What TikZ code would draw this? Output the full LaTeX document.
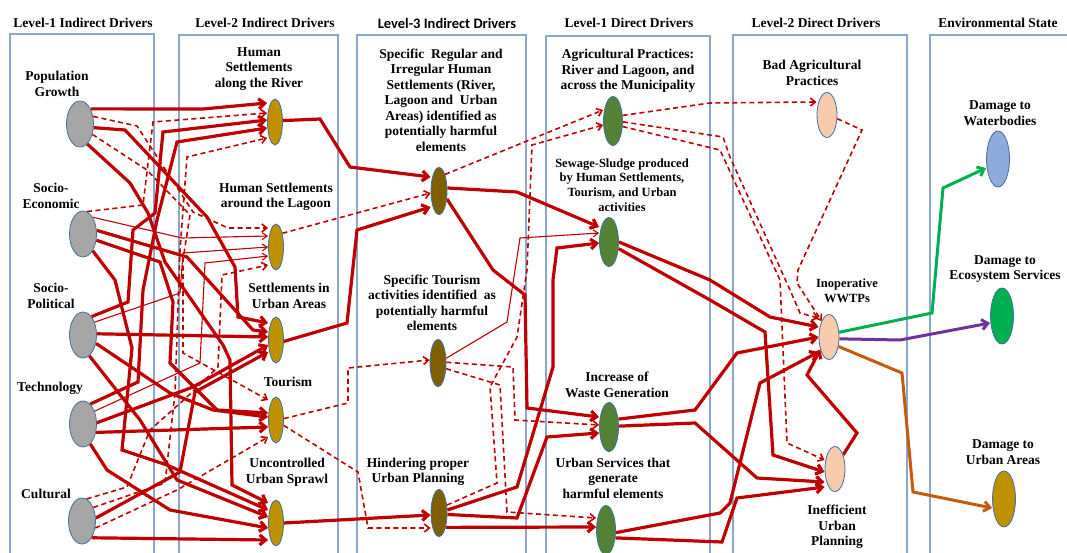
\documentclass[tikz,border=0pt]{standalone}
\usepackage{fontspec}
\setmainfont{Liberation Serif}
\newfontfamily\calfont{Carlito}
\usetikzlibrary{arrows.meta,shapes.geometric}
\definecolor{dred}{HTML}{C00000}
\definecolor{boxc}{HTML}{8CA8C8}
\definecolor{edgec}{HTML}{41719C}
\definecolor{grayf}{HTML}{A6A6A6}
\definecolor{goldf}{HTML}{BF9000}
\definecolor{brownf}{HTML}{7F6000}
\definecolor{greenf}{HTML}{548235}
\definecolor{peachf}{HTML}{F8CBAD}
\definecolor{waterc}{HTML}{8FAADC}
\definecolor{ecoc}{HTML}{00B050}
\definecolor{uac}{HTML}{BF9000}
\definecolor{grnl}{HTML}{00B050}
\definecolor{prpl}{HTML}{7030A0}
\definecolor{orgl}{HTML}{C55A11}
\pgfdeclarelayer{bg}
\pgfsetlayers{bg,main}
\begin{document}
\begin{tikzpicture}[x=1pt,y=-1pt,
  col/.style={draw=boxc, line width=1.1pt},
  ttl/.style={font=\bfseries\fontsize{13.5}{15}\selectfont, inner sep=0},
  lbl/.style={align=center, font=\bfseries\fontsize{13.5}{15.5}\selectfont, inner sep=0},
  slbl/.style={align=center, font=\bfseries\fontsize{12.5}{14.6}\selectfont, inner sep=0},
  ell/.style={ellipse, draw=edgec, line width=0.8pt, inner sep=0pt},
  l1/.style={ell, fill=grayf, minimum width=27pt, minimum height=46pt},
  l2/.style={ell, fill=goldf, minimum width=15pt, minimum height=46pt},
  l3/.style={ell, fill=brownf, minimum width=16pt, minimum height=47pt},
  d1/.style={ell, fill=greenf, minimum width=19pt, minimum height=49pt},
  d2/.style={ell, fill=peachf, minimum width=20pt, minimum height=45pt},
  env/.style={ell, minimum width=23pt, minimum height=56pt},
  thk/.style={draw=dred, line width=3.2pt, -{Straight Barb[length=6pt,width=10pt]}},
  thn/.style={draw=dred, line width=1.1pt, -{Straight Barb[length=5pt,width=7pt]}},
  dsh/.style={draw=dred, line width=1.6pt, dash pattern=on 5pt off 3.5pt, -{Straight Barb[length=5pt,width=8pt]}},
  grn/.style={draw=grnl, line width=3pt, -{Straight Barb[length=6pt,width=10pt]}},
  prp/.style={draw=prpl, line width=3pt, -{Straight Barb[length=6pt,width=10pt]}},
  org/.style={draw=orgl, line width=3pt, -{Straight Barb[length=6pt,width=10pt]}},
]
\useasboundingbox (0,0) rectangle (1067,553);

% titles
\node[ttl] (h1) at (83,23) {Level-1 Indirect Drivers};
\node[ttl] (h2) at (265,23) {Level-2 Indirect Drivers};
\node[ttl, font=\calfont\bfseries\fontsize{14.5}{15}\selectfont] (h3) at (447,23) {Level-3 Indirect Drivers};
\node[ttl] (h4) at (629,23) {Level-1 Direct Drivers};
\node[ttl] (h5) at (816,23) {Level-2 Direct Drivers};
\node[ttl] (h6) at (998,23) {Environmental State};

% nodes
\node[l1] (pg) at (80,124) {};
\node[l1] (se) at (83,234) {};
\node[l1] (sp) at (83,335) {};
\node[l1] (tech) at (83,424) {};
\node[l1] (cul) at (82,521) {};
\node[l2] (river) at (275,122) {};
\node[l2] (lagoon) at (276,247) {};
\node[l2] (urban) at (276,340) {};
\node[l2] (tourism) at (276,420) {};
\node[l2] (sprawl) at (276,523) {};
\node[l3] (sr) at (439,191) {};
\node[l3] (st) at (438,363) {};
\node[l3] (hp) at (439,513) {};
\node[d1] (agri) at (613,121) {};
\node[d1] (sewage) at (609,242) {};
\node[d1] (wg) at (609,427) {};
\node[d1] (us) at (606,530) {};
\node[d2] (bad) at (827,115) {};
\node[d2] (inop) at (829,337) {};
\node[d2] (ineff) at (835,469) {};
\node[env, fill=waterc] (water) at (998,159) {};
\node[env, fill=ecoc] (eco) at (1002,316) {};
\node[env, fill=uac] (ua) at (1004,499) {};

% labels
\node[lbl] (tpg) at (57,84) {Population\\Growth};
\node[lbl] (tse) at (51,196) {Socio-\\Economic};
\node[lbl] (tsp) at (51,296) {Socio-\\Political};
\node[lbl] (ttech) at (50,388) {Technology};
\node[lbl] (tcul) at (46,494) {Cultural};
\node[lbl] (triver) at (259,69) {Human\\Settlements\\along the River};
\node[lbl] (tlagoon) at (276,197) {Human Settlements\\around the Lagoon};
\node[lbl] (turban) at (289,296) {Settlements in\\Urban Areas};
\node[lbl] (ttour) at (288,382) {Tourism};
\node[lbl] (tsprawl) at (287,472) {Uncontrolled\\Urban Sprawl};
\node[lbl] (tsr) at (441,100) {Specific\ \ Regular and\\Irregular Human\\Settlements (River,\\Lagoon and\ \ Urban\\Areas) identified as\\potentially harmful\\elements};
\node[lbl] (tst) at (432,303) {Specific Tourism\\activities identified\ \ as\\potentially harmful\\elements};
\node[lbl] (thp) at (418,472) {Hindering proper\\Urban Planning};
\node[lbl] (tagri) at (628,71) {Agricultural Practices:\\River and Lagoon, and\\across the Municipality};
\node[slbl] (tsew) at (622,185) {Sewage-Sludge produced\\by Human Settlements,\\Tourism, and Urban\\activities};
\node[lbl] (twg) at (617,385) {Increase of\\Waste Generation};
\node[lbl] (tus) at (613,478) {Urban Services that\\generate\\harmful elements};
\node[lbl] (tbad) at (812,73) {Bad Agricultural\\Practices};
\node[slbl] (tinop) at (847,291) {Inoperative\\WWTPs};
\node[lbl] (tineff) at (837,527) {Inefficient\\Urban\\Planning};
\node[lbl] (twater) at (1000,113) {Damage to\\Waterbodies};
\node[lbl] (teco) at (1005,269) {Damage to\\Ecosystem Services};
\node[lbl] (tua) at (1003,452) {Damage to\\Urban Areas};

\begin{pgfonlayer}{bg}
% column boxes
\draw[col] (10,553) -- (10,34) -- (154,34) -- (154,553);
\draw[col] (179,553) -- (179,35) -- (338,35) -- (338,553);
\draw[col] (357,553) -- (357,35) -- (526,35) -- (526,553);
\draw[col] (546,553) -- (546,36) -- (710,36) -- (710,553);
\draw[col] (733,553) -- (733,35) -- (907,35) -- (907,553);
\draw[col] (930,553) -- (930,35) -- (1067,35);

% Level-1 -> Level-2
\draw[thk] (pg.55) -- (203,109) -- ([yshift=19pt]river.west);
\draw[dsh] (pg.30) -- (137,126) -- (193,212) -- (228,228) -- ([yshift=19pt]lagoon.west);
\draw[thk] (pg.-15) -- (125,130) -- (207,217) -- (235,267) -- (238,317) -- ([yshift=17pt]urban.west);
\draw[dsh] (pg.-40) -- (147,170) -- (190,215) -- (183,260) -- (183,353) -- ([yshift=20pt]tourism.west);
\draw[thk] (pg.-70) -- (130,183) -- (148,213) -- (165,262) -- (223,345) -- (230,360) -- (232,485) -- ([yshift=20pt]sprawl.west);

\draw[dsh] (se.80) -- (143,205) -- (153,122) -- ([yshift=9pt]river.west);
\draw[thn] (se.60) -- (182,238) -- ([yshift=11pt]lagoon.west);
\draw[thk] (se.15) -- (187,257) -- (253,330) -- ([yshift=8pt]urban.west);
\draw[thk] (se.-25) -- (160,262) -- (173,302) -- (170,363) -- (217,410) -- ([yshift=7pt]tourism.west);
\draw[thk] (se.-60) -- (115,280) -- (132,348) -- (122,450) -- (167,465) -- ([yshift=13pt]sprawl.west);

\draw[thk] (sp.65) -- (128,302) -- (133,230) -- (155,213) -- (163,132) -- ([yshift=2pt]river.west);
\draw[thn] (sp.48) -- (180,293) -- (183,253) -- ([yshift=0pt]lagoon.west);
\draw[thk] (sp.5) -- ([yshift=3pt]urban.west);
\draw[thk] (sp.-33) -- (170,393) -- (213,410) -- ([yshift=3pt]tourism.west);
\draw[thk] (sp.-73) -- (140,420) -- (177,480) -- ([yshift=6pt]sprawl.west);

\draw[thk] (tech.70) -- (138,382) -- (143,290) -- (157,220) -- (177,142) -- ([yshift=-6pt]river.west);
\draw[thn] (tech.48) -- (200,363) -- (205,263) -- ([yshift=-9pt]lagoon.west);
\draw[thk] (tech.5) -- (193,387) -- ([yshift=-5pt]urban.west);
\draw[thk] (tech.-33) -- ([yshift=-7pt]tourism.west);
\draw[thk] (tech.-70) -- (107,470) -- (170,510) -- ([yshift=-5pt]sprawl.west);

\draw[dsh] (cul.78) -- (127,487) -- (150,430) -- (187,397) -- (218,367) -- (222,275) -- ([yshift=-18pt]lagoon.west);
\draw[dsh] (cul.50) -- (165,483) -- (175,393) -- (180,250) -- (187,157) -- ([yshift=-16pt]river.west);
\draw[thk] (cul.12) -- (180,472) -- (195,392) -- ([yshift=-12pt]urban.west);
\draw[dsh] (cul.-28) -- (177,490) -- ([yshift=-17pt]tourism.west);
\draw[thk] (cul.-60) -- ([yshift=-17pt]sprawl.west);

% Level-2 -> Level-3
\draw[thk] (river.10) -- (320,119) -- (350,167) -- ([yshift=14pt]sr.west);
\draw[dsh] (lagoon.65) -- ([yshift=-2pt]sr.west);
\draw[thk] (urban.-10) -- (347,323) -- (357,230) -- ([yshift=-16pt]sr.west);
\draw[dsh] (tourism.10) -- (348,403) -- (348,368) -- ([yshift=3pt]st.west);
\draw[dsh] (tourism.-35) -- (358,472) -- (368,528) -- ([yshift=-15pt]hp.west);
\draw[thk] (sprawl.0) -- ([yshift=-2pt]hp.west);

% Level-3 -> Level-1 direct
\draw[dsh] (sr.70) -- ([yshift=11pt]agri.west);
\draw[thk] (sr.20) -- (517,192) -- ([yshift=15pt]sewage.west);
\draw[thk] (sr.-45) -- (493,270) -- (525,295) -- (527,408) -- ([yshift=10pt]wg.west);
\draw[thn] (st.30) -- (507,322) -- (520,238) -- ([yshift=9pt]sewage.west);
\draw[dsh] (st.5) -- (513,367) -- (515,420) -- ([yshift=2pt]wg.west);
\draw[dsh] (st.-35) -- (500,385) -- (507,512) -- ([yshift=12pt]us.west);
\draw[dsh] (hp.45) -- (497,483) -- (490,387) -- (517,337) -- (527,270) -- (532,145) -- ([yshift=-4pt]agri.west);
\draw[thk] (hp.20) -- (517,487) -- (553,367) -- (553,280) -- (557,248) -- ([yshift=-1pt]sewage.west);
\draw[thk] (hp.-10) -- (517,518) -- (547,437) -- ([yshift=-6pt]wg.west);
\draw[thk] (hp.-65) -- ([yshift=3pt]us.west);

% Level-1 direct -> Level-2 direct
\draw[dsh] (agri.30) -- (710,103) -- ([yshift=13pt]bad.west);
\draw[dsh] (agri.-5) -- (723,137) -- (730,157) -- (790,290) -- (800,313) -- ([yshift=19pt]inop.west);
\draw[dsh] (agri.-30) -- (720,150) -- (780,280) -- (787,443) -- ([yshift=9pt]ineff.west);
\draw[dsh] (bad.-20) -- (862,130) -- (798,270) -- (797,283) -- (inop.115);
\draw[thk] (sewage.0) -- (710,280) -- (770,317) -- ([yshift=10pt]inop.west);
\draw[thk] (sewage.-35) -- (710,300) -- (765,332) -- (773,455) -- ([yshift=-3pt]ineff.west);
\draw[thk] (wg.40) -- (695,410) -- (737,353) -- ([yshift=0pt]inop.west);
\draw[thk] (wg.5) -- (695,423) -- (757,478) -- ([yshift=-13pt]ineff.west);
\draw[thk] (us.-15) -- (720,513) -- (730,503) -- (760,383) -- ([yshift=-15pt]inop.west);
\draw[thk] (us.-40) -- (722,542) -- (737,498) -- ([yshift=-18pt]ineff.west);
\draw[thk] (ineff.60) -- (857,433) -- (807,375) -- (inop.-125);

% Level-2 direct -> Environmental state
\draw[grn] (inop.25) -- (932,313) -- (943,188) -- ([yshift=-9pt]water.west);
\draw[prp] (inop.-10) -- (900,340) -- ([yshift=-7pt]eco.west);
\draw[org] (inop.-45) -- (902,373) -- (913,492) -- ([yshift=-9pt]ua.west);
\end{pgfonlayer}
\end{tikzpicture}
\end{document}
